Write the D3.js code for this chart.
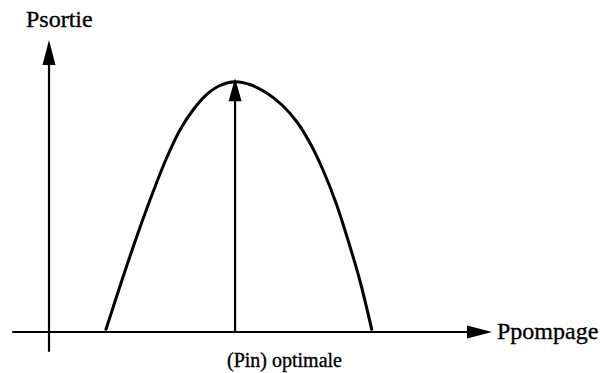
<!DOCTYPE html>
<html>
<head>
<meta charset="utf-8">
<script src="https://cdn.jsdelivr.net/npm/d3@7"></script>
<style>
  html, body { margin: 0; padding: 0; background: #fff; }
  svg { display: block; }
</style>
</head>
<body>
<svg id="chart" width="603" height="373"></svg>
<script>
// ---- data (abstract units) ----
const pumpPower   = [1.287, 1.648, 2.009, 2.348, 2.664, 2.957, 3.251, 3.544, 3.860, 4.199, 4.537, 4.898, 5.260, 5.598, 5.892, 6.185, 6.479, 6.749, 7.020, 7.285];
const outputPower = [0.092, 1.781, 3.390, 4.795, 5.993, 6.918, 7.603, 8.116, 8.442, 8.572, 8.476, 8.202, 7.774, 7.192, 6.473, 5.548, 4.418, 3.151, 1.747, 0.092];
const optimalPump = [4.20];
const optimalPeak = [8.69];
const axisLabels  = ["Psortie", "Ppompage", "(Pin) optimale"];

// ---- scales ----
const x = d3.scaleLinear().domain([0, 10]).range([49, 492]);
const y = d3.scaleLinear().domain([0, 10]).range([332, 40]);

const svg = d3.select("#chart");
const serif = "'Liberation Serif', 'Times New Roman', Times, serif";

function arrow(x1, y1, x2, y2, len, half, sw) {
  const dx = x2 - x1, dy = y2 - y1, L = Math.hypot(dx, dy);
  const ux = dx / L, uy = dy / L;
  const bx = x2 - ux * len, by = y2 - uy * len;
  svg.append("line")
    .attr("x1", x1).attr("y1", y1).attr("x2", bx + ux * 2).attr("y2", by + uy * 2)
    .attr("stroke", "#000").attr("stroke-width", sw);
  svg.append("path")
    .attr("d", `M${x2},${y2} L${bx - uy * half},${by + ux * half} L${bx + uy * half},${by - ux * half} Z`)
    .attr("fill", "#000");
}

// horizontal axis
arrow(x(-0.83), y(0), x(10), y(0), 25, 6.5, 2.2);
// vertical axis
arrow(x(0), y(-0.68), x(0), y(10), 25, 6.5, 2.2);

// curve
const pts = pumpPower.map((v, i) => [v, outputPower[i]]);
const line = d3.line().x(d => x(d[0])).y(d => y(d[1])).curve(d3.curveCatmullRom.alpha(0.5));
svg.append("path")
  .attr("d", line(pts))
  .attr("fill", "none")
  .attr("stroke", "#000")
  .attr("stroke-width", 3)
  .attr("stroke-linecap", "round");

// optimal arrow
arrow(x(optimalPump[0]), y(0), x(optimalPump[0]), y(optimalPeak[0]), 23, 6.5, 2.2);

// labels
function label(tx, ty, size, str) {
  svg.append("text").attr("x", tx).attr("y", ty)
    .style("font-family", serif)
    .attr("font-size", size).attr("fill", "#000")
    .attr("stroke", "#000").attr("stroke-width", 0.35)
    .text(str);
}
label(26, 27, 24, axisLabels[0]);
label(497, 339, 24, axisLabels[1]);
label(227, 367, 20, axisLabels[2]);
</script>
</body>
</html>
